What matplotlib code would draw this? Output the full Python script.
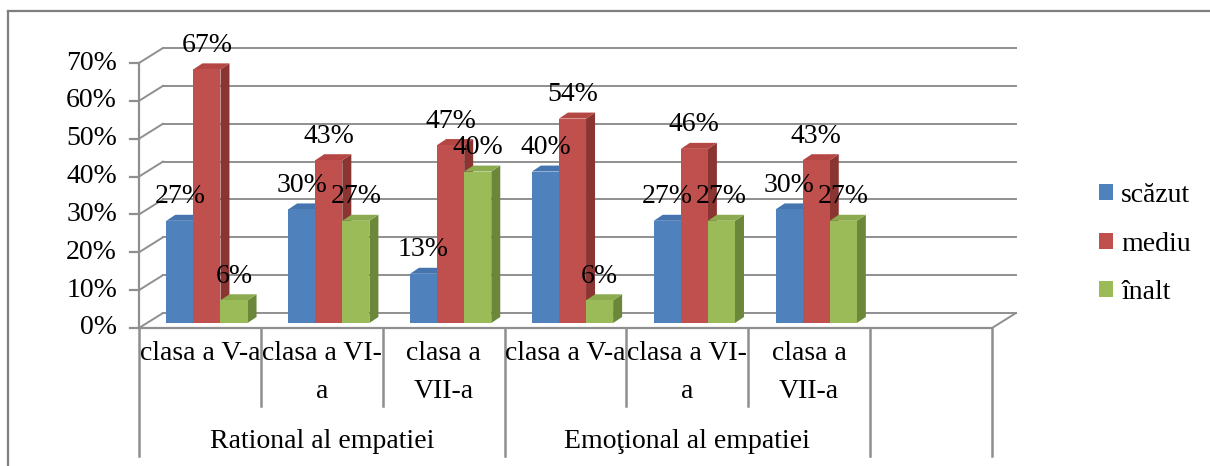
import matplotlib
matplotlib.use("Agg")
import matplotlib.pyplot as plt
from matplotlib.patches import Polygon, Rectangle, Patch
from matplotlib.lines import Line2D

# ---------------- data ----------------
categories = ["clasa a V-a", "clasa a VI-\na", "clasa a\nVII-a",
              "clasa a V-a", "clasa a VI-\na", "clasa a\nVII-a"]
groups = ["Rational al empatiei", "Emoţional al empatiei"]
series_names = ["scăzut", "mediu", "înalt"]
scazut = [27, 30, 13, 40, 27, 30]
mediu = [67, 43, 47, 54, 46, 43]
inalt = [6, 27, 40, 6, 27, 27]
yticks = [0, 10, 20, 30, 40, 50, 60, 70]

# ---------------- style ----------------
FRONT = ["#4F81BD", "#C0504D", "#9BBB59"]
SIDE = ["#37598A", "#8B3532", "#6A873A"]
TOP = ["#4674AE", "#B44743", "#8CAB4F"]
GRID = "#8f8f8f"
FONT = "Liberation Serif"
FS = 20

W, H, DPI = 1210, 466, 100
n_slots = 7                      # 6 categories + one empty slot (as in Excel)
AX_X0, AX_X1 = 139, 992          # pixel x of category axis ends
Y0_PX, Y70_PX = 328, 63          # pixel y (from top) of 0% and 70% on front axis

px_per_cat = (AX_X1 - AX_X0) / n_slots
px_per_pct = (Y0_PX - Y70_PX) / 70.0

def dxu(px):
    return px / px_per_cat

def dyu(px):
    return px / px_per_pct

fig = plt.figure(figsize=(W / DPI, H / DPI), dpi=DPI)
ax = fig.add_axes([0, 0, 1, 1])
ax.set_axis_off()
ax.set_xlim(-AX_X0 / px_per_cat, (W - AX_X0) / px_per_cat)
ax.set_ylim(-(H - Y0_PX) / px_per_pct, Y0_PX / px_per_pct)

# depth of the 3D wall
DX, DY = dxu(24), dyu(15)

# ---- gridlines (back wall) + left diagonals ----
for t in yticks:
    ax.add_line(Line2D([0, DX], [t, t + DY], color=GRID, lw=1.4, zorder=1))
    ax.add_line(Line2D([DX, n_slots + DX], [t + DY, t + DY], color=GRID, lw=1.4, zorder=1))
    ax.add_line(Line2D([-dxu(9), 0], [t, t], color=GRID, lw=1.6, zorder=1))
    ax.text(-dxu(22), t, f"{t}%", ha="right", va="center",
            fontsize=FS, family=FONT, color="black")

# front vertical axis
ax.add_line(Line2D([0, 0], [0, yticks[-1]], color=GRID, lw=1.6, zorder=1))
# floor front edge and right diagonal
ax.add_line(Line2D([0, n_slots], [0, 0], color=GRID, lw=1.6, zorder=1))
ax.add_line(Line2D([n_slots, n_slots + DX], [0, DY], color=GRID, lw=1.4, zorder=1))

# category dividers
long_div = {0, 3, 6, 7}
for k in range(n_slots + 1):
    bottom = dyu(-(456 - Y0_PX)) if k in long_div else dyu(-(406 - Y0_PX))
    ax.add_line(Line2D([k, k], [0, bottom], color=GRID, lw=1.8, zorder=1))

# ---- bars ----
bw = 1 / 4.5                     # gap width 150%
bx0, by0 = dxu(7), dyu(5)        # bar position inside the depth
bdx, bdy = dxu(9), dyu(6)        # bar depth
all_series = [scazut, mediu, inalt]
for i in range(len(categories)):
    for j, vals in enumerate(all_series):
        v = vals[i]
        x0 = i + (0.75 + j) * bw + bx0
        x1 = x0 + bw
        yb, yt = by0, by0 + v
        side = Polygon([(x1, yb), (x1 + bdx, yb + bdy), (x1 + bdx, yt + bdy), (x1, yt)],
                       closed=True, facecolor=SIDE[j], edgecolor="none", zorder=3)
        top = Polygon([(x0, yt), (x1, yt), (x1 + bdx, yt + bdy), (x0 + bdx, yt + bdy)],
                      closed=True, facecolor=TOP[j], edgecolor="none", zorder=3)
        front = Rectangle((x0, yb), bw, v, facecolor=FRONT[j], edgecolor="none", zorder=3)
        ax.add_patch(side)
        ax.add_patch(top)
        ax.add_patch(front)
for i in range(len(categories)):
    for j, vals in enumerate(all_series):
        v = vals[i]
        xc = i + (0.75 + j + 0.5) * bw + bx0
        ax.text(xc, v + by0 + dyu(24), f"{v}%", ha="center", va="center",
                fontsize=FS, family=FONT, color="black", zorder=5)

# ---- category labels ----
for i, lab in enumerate(categories):
    ax.text(i + 0.5, dyu(-(341 - Y0_PX)), lab, ha="center", va="top",
            fontsize=FS, family=FONT, linespacing=1.7, multialignment="center")
for g, lab in enumerate(groups):
    ax.text(g * 3 + 1.5, dyu(-(441 - Y0_PX)), lab, ha="center", va="center",
            fontsize=FS, family=FONT)

# ---- legend ----
handles = [Patch(facecolor=c, edgecolor="none") for c in FRONT]
leg = ax.legend(handles, series_names, loc="center left",
                bbox_to_anchor=(1085 / W, 1 - 244 / H), bbox_transform=fig.transFigure,
                frameon=False, prop={"family": FONT, "size": FS},
                handlelength=0.5, handleheight=0.5, handletextpad=0.3,
                labelspacing=0.85, borderpad=0)

# ---- outer border (left and top edges of the chart frame) ----
fig.add_artist(Line2D([8 / W, 8 / W], [0, 1 - 11 / H], transform=fig.transFigure,
                      color="#7f7f7f", lw=1.6))
fig.add_artist(Line2D([8 / W, 1], [1 - 11 / H, 1 - 11 / H], transform=fig.transFigure,
                      color="#7f7f7f", lw=1.6))

fig.savefig("out.png", dpi=DPI, facecolor="white")
